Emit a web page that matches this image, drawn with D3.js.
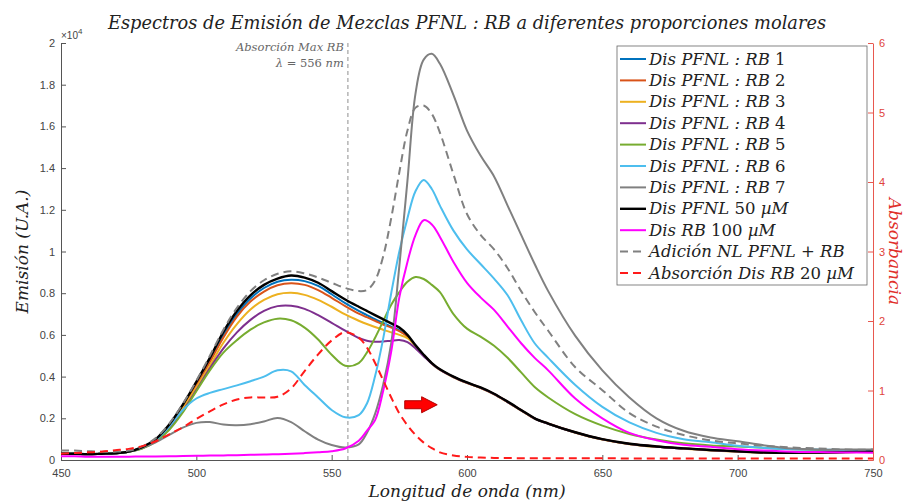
<!DOCTYPE html>
<html>
<head>
<meta charset="utf-8">
<script src="https://cdn.jsdelivr.net/npm/d3@7"></script>
<style>
  html, body { margin: 0; padding: 0; background: #fff; }
  svg { display: block; }
</style>
</head>
<body>
<svg id="chart" width="905" height="502"></svg>
<script>
// Wavelength grid (nm) shared by every spectrum
const wavelengths = [450,455,460,465,470,475,480,485,490,495,500,505,510,515,520,525,530,535,540,545,550,555,560,563,566,569,572,575,578,581,584,587,590,595,600,605,610,615,620,625,630,640,650,660,670,680,690,700,710,720,730,740,750];

// Emission spectra, in units of 10^4 (U.A.)
const emRB1 = [0.030,0.030,0.028,0.030,0.032,0.040,0.060,0.097,0.165,0.258,0.365,0.478,0.600,0.700,0.775,0.825,0.855,0.865,0.858,0.835,0.795,0.752,0.715,0.695,0.675,0.658,0.640,0.622,0.594,0.548,0.503,0.463,0.433,0.398,0.370,0.346,0.316,0.278,0.238,0.199,0.174,0.132,0.099,0.077,0.064,0.055,0.047,0.041,0.036,0.035,0.036,0.038,0.040];
const emRB2 = [0.030,0.030,0.028,0.030,0.032,0.040,0.060,0.096,0.163,0.255,0.360,0.470,0.588,0.688,0.760,0.808,0.838,0.848,0.840,0.815,0.778,0.738,0.702,0.685,0.668,0.650,0.635,0.618,0.592,0.547,0.503,0.464,0.434,0.399,0.371,0.347,0.317,0.279,0.239,0.200,0.175,0.133,0.100,0.078,0.065,0.056,0.048,0.042,0.037,0.036,0.037,0.039,0.041];
const emRB3 = [0.030,0.030,0.028,0.030,0.032,0.040,0.058,0.094,0.158,0.247,0.348,0.452,0.562,0.652,0.722,0.768,0.795,0.802,0.792,0.768,0.735,0.698,0.668,0.652,0.638,0.625,0.612,0.600,0.584,0.546,0.502,0.462,0.432,0.397,0.369,0.345,0.315,0.277,0.237,0.198,0.173,0.131,0.098,0.076,0.063,0.054,0.046,0.040,0.035,0.034,0.035,0.037,0.039];
const emRB4 = [0.030,0.030,0.028,0.030,0.032,0.040,0.056,0.090,0.150,0.235,0.335,0.440,0.535,0.612,0.672,0.715,0.738,0.740,0.725,0.695,0.658,0.620,0.585,0.572,0.567,0.568,0.572,0.575,0.565,0.535,0.498,0.462,0.433,0.398,0.370,0.346,0.316,0.278,0.238,0.199,0.174,0.132,0.099,0.077,0.064,0.055,0.047,0.041,0.036,0.035,0.036,0.038,0.040];
const emRB5 = [0.030,0.030,0.028,0.030,0.032,0.040,0.055,0.088,0.145,0.228,0.330,0.430,0.515,0.575,0.625,0.660,0.678,0.670,0.635,0.578,0.505,0.452,0.465,0.515,0.585,0.665,0.745,0.805,0.855,0.878,0.868,0.840,0.805,0.700,0.630,0.592,0.548,0.490,0.420,0.350,0.300,0.220,0.165,0.125,0.098,0.080,0.070,0.065,0.058,0.052,0.048,0.046,0.045];
const emRB6 = [0.030,0.030,0.028,0.030,0.032,0.040,0.060,0.095,0.160,0.240,0.295,0.322,0.340,0.358,0.378,0.400,0.430,0.425,0.360,0.300,0.240,0.205,0.215,0.270,0.400,0.580,0.800,1.000,1.160,1.290,1.343,1.300,1.220,1.100,1.010,0.940,0.870,0.790,0.670,0.560,0.490,0.360,0.255,0.180,0.130,0.100,0.085,0.068,0.058,0.052,0.050,0.048,0.045];
const emRB7 = [0.030,0.030,0.028,0.030,0.032,0.040,0.058,0.085,0.120,0.155,0.178,0.182,0.170,0.167,0.172,0.185,0.202,0.182,0.138,0.098,0.072,0.060,0.075,0.130,0.220,0.360,0.560,0.930,1.340,1.760,1.920,1.948,1.900,1.750,1.580,1.460,1.360,1.220,1.080,0.940,0.810,0.595,0.430,0.300,0.200,0.140,0.108,0.090,0.070,0.055,0.050,0.050,0.050];
const emPFNL = [0.030,0.030,0.028,0.030,0.032,0.040,0.062,0.100,0.170,0.265,0.375,0.490,0.615,0.715,0.790,0.840,0.870,0.885,0.875,0.850,0.810,0.770,0.735,0.715,0.695,0.675,0.655,0.635,0.600,0.550,0.505,0.465,0.435,0.400,0.372,0.348,0.318,0.280,0.240,0.200,0.175,0.133,0.100,0.078,0.065,0.056,0.048,0.042,0.036,0.035,0.036,0.038,0.040];
const emRB = [0.018,0.018,0.016,0.016,0.016,0.016,0.017,0.017,0.018,0.019,0.020,0.021,0.022,0.023,0.025,0.026,0.028,0.030,0.033,0.037,0.042,0.055,0.092,0.140,0.190,0.330,0.520,0.780,0.950,1.080,1.150,1.130,1.070,0.950,0.850,0.780,0.720,0.640,0.560,0.490,0.430,0.295,0.200,0.130,0.095,0.073,0.063,0.052,0.045,0.040,0.038,0.036,0.035];
const emSum = [0.045,0.045,0.042,0.040,0.040,0.045,0.065,0.105,0.175,0.270,0.380,0.500,0.625,0.730,0.810,0.862,0.893,0.905,0.895,0.875,0.850,0.825,0.810,0.815,0.860,0.975,1.160,1.380,1.580,1.690,1.700,1.660,1.570,1.370,1.180,1.080,1.010,0.920,0.810,0.710,0.620,0.445,0.335,0.225,0.160,0.120,0.094,0.080,0.068,0.060,0.055,0.050,0.050];

// Absorbance of RB 20 uM (right axis)
const absRB = [0.090,0.100,0.110,0.120,0.140,0.160,0.200,0.270,0.370,0.470,0.590,0.700,0.800,0.870,0.900,0.900,0.910,1.030,1.280,1.520,1.720,1.840,1.760,1.620,1.400,1.150,0.900,0.670,0.500,0.360,0.250,0.170,0.110,0.065,0.045,0.035,0.030,0.028,0.026,0.025,0.025,0.024,0.024,0.023,0.023,0.022,0.022,0.022,0.021,0.021,0.021,0.020,0.020];

// Legend labels and colours, in drawing order
const seriesNames = [
  "Dis PFNL : RB 1", "Dis PFNL : RB 2", "Dis PFNL : RB 3", "Dis PFNL : RB 4",
  "Dis PFNL : RB 5", "Dis PFNL : RB 6", "Dis PFNL : RB 7",
  "Dis PFNL 50 µM", "Dis RB 100 µM", "Adición NL PFNL + RB", "Absorción Dis RB 20 µM"
];
const seriesColors = ["#0072BD","#D95319","#EDB120","#7E2F8E","#77AC30","#4DBEEE","#808080","#000000","#FF00FF","#808080","#FF1A1A"];

// Axis ticks
const xTicks = [450,500,550,600,650,700,750];
const yTicks = [0,0.2,0.4,0.6,0.8,1,1.2,1.4,1.6,1.8,2];
const yRightTicks = [0,1,2,3,4,5,6];

// Absorption maximum marker and the arrow annotation
const absMaxWavelength = 556;
const arrowSpan = [577, 589];
const arrowLevel = 0.265;

const svg = d3.select("#chart");
const serif = "'DejaVu Serif', serif";
const sans = "'Liberation Sans', Arial, sans-serif";

const plot = { left: 61, right: 873, top: 43, bottom: 460 };
const x = d3.scaleLinear().domain([450, 750]).range([plot.left, plot.right]);
const y = d3.scaleLinear().domain([0, 2]).range([plot.bottom, plot.top]);
const yR = d3.scaleLinear().domain([0, 6]).range([plot.bottom, plot.top]);

// Writes LaTeX-like text: letters italic, digits upright
function mathText(sel, str) {
  str.split(/(\d+)/).filter(s => s.length).forEach(part => {
    sel.append("tspan")
      .attr("font-style", /^\d+$/.test(part) ? "normal" : "italic")
      .text(part);
  });
  return sel;
}

// Axes
const axisColor = "#555";
const gx = svg.append("g").attr("transform", `translate(0,${plot.bottom})`)
  .call(d3.axisBottom(x).tickValues(xTicks).tickSizeInner(-5).tickSizeOuter(0).tickPadding(9));
const gy = svg.append("g").attr("transform", `translate(${plot.left},0)`)
  .call(d3.axisLeft(y).tickValues(yTicks).tickFormat(d3.format("~g")).tickSizeInner(-5).tickSizeOuter(0).tickPadding(6));
const gyr = svg.append("g").attr("transform", `translate(${plot.right},0)`)
  .call(d3.axisRight(yR).tickValues(yRightTicks).tickFormat(d3.format("d")).tickSizeInner(-5).tickSizeOuter(0).tickPadding(6));

[gx, gy].forEach(g => {
  g.select(".domain").attr("stroke", axisColor);
  g.selectAll(".tick line").attr("stroke", axisColor);
  g.selectAll(".tick text").attr("fill", "#444").attr("font-family", sans).attr("font-size", 11);
});
gyr.select(".domain").attr("stroke", "#e8584f");
gyr.selectAll(".tick line").attr("stroke", "#e8584f");
gyr.selectAll(".tick text").attr("fill", "#e0433b").attr("font-family", sans).attr("font-size", 11);

// Exponent label of the left axis
const expo = svg.append("text").attr("x", plot.left).attr("y", 39)
  .attr("font-family", sans).attr("font-size", 10).attr("fill", "#444");
expo.append("tspan").text("×10");
expo.append("tspan").attr("dy", -5).attr("font-size", 8).text("4");

// Vertical marker at the absorption maximum
svg.append("line")
  .attr("x1", x(absMaxWavelength)).attr("x2", x(absMaxWavelength))
  .attr("y1", plot.top).attr("y2", plot.bottom)
  .attr("stroke", "#808080").attr("stroke-width", 0.9).attr("stroke-dasharray", "4,3");

const note = svg.append("g").attr("font-family", serif).attr("font-size", 11.5)
  .attr("fill", "#666").attr("text-anchor", "end");
mathText(note.append("text").attr("x", x(absMaxWavelength) - 4).attr("y", 51), "Absorción Max RB");
mathText(note.append("text").attr("x", x(absMaxWavelength) - 4).attr("y", 67), "λ = " + absMaxWavelength + " nm");

// Spectra
const emissionSets = [emRB1, emRB2, emRB3, emRB4, emRB5, emRB6, emRB7, emPFNL, emRB, emSum];
const lineEm = d3.line().x((d, i) => x(wavelengths[i])).y(d => y(d)).curve(d3.curveCatmullRom.alpha(0.5));
const lineAbs = d3.line().x((d, i) => x(wavelengths[i])).y(d => yR(d)).curve(d3.curveCatmullRom.alpha(0.5));

const styleOf = i => ({
  color: seriesColors[i],
  width: i === 7 ? 2.4 : 2,
  dash: i >= 9 ? "8,5" : null
});

emissionSets.forEach((data, i) => {
  const s = styleOf(i);
  svg.append("path").datum(data).attr("d", lineEm)
    .attr("fill", "none").attr("stroke", s.color).attr("stroke-width", s.width)
    .attr("stroke-dasharray", s.dash).attr("stroke-linejoin", "round");
});
{
  const s = styleOf(10);
  svg.append("path").datum(absRB).attr("d", lineAbs)
    .attr("fill", "none").attr("stroke", s.color).attr("stroke-width", s.width)
    .attr("stroke-dasharray", s.dash);
}

// Red arrow annotation
{
  const x0 = x(arrowSpan[0]), x1 = x(arrowSpan[1]), yc = y(arrowLevel);
  const xm = x0 + (x1 - x0) * 0.52;
  const p = d3.path();
  p.moveTo(x0, yc - 4); p.lineTo(xm, yc - 4); p.lineTo(xm, yc - 8);
  p.lineTo(x1, yc); p.lineTo(xm, yc + 8); p.lineTo(xm, yc + 4);
  p.lineTo(x0, yc + 4); p.closePath();
  svg.append("path").attr("d", p.toString())
    .attr("fill", "#ff0000").attr("stroke", "#b00000").attr("stroke-width", 1);
}

// Legend
const legend = svg.append("g");
legend.append("rect").attr("x", 617).attr("y", 46).attr("width", 250).attr("height", 239)
  .attr("fill", "#fff").attr("stroke", "#666").attr("stroke-width", 0.8);
seriesNames.forEach((name, i) => {
  const s = styleOf(i);
  const yy = 59 + i * 21.4;
  legend.append("line").attr("x1", 620).attr("x2", 646).attr("y1", yy).attr("y2", yy)
    .attr("stroke", s.color).attr("stroke-width", s.width).attr("stroke-dasharray", s.dash);
  mathText(legend.append("text").attr("x", 649).attr("y", yy + 5.5)
    .attr("font-family", serif).attr("font-size", 16.5).attr("fill", "#222"), name);
});

// Titles
mathText(svg.append("text").attr("x", (plot.left + plot.right) / 2).attr("y", 29)
  .attr("text-anchor", "middle").attr("font-family", serif).attr("font-size", 17.8).attr("fill", "#222"),
  "Espectros de Emisión de Mezclas PFNL : RB a diferentes proporciones molares");
mathText(svg.append("text").attr("x", (plot.left + plot.right) / 2).attr("y", 497)
  .attr("text-anchor", "middle").attr("font-family", serif).attr("font-size", 17).attr("fill", "#222"),
  "Longitud de onda (nm)");
mathText(svg.append("text").attr("transform", `translate(28,${(plot.top + plot.bottom) / 2}) rotate(-90)`)
  .attr("text-anchor", "middle").attr("font-family", serif).attr("font-size", 17).attr("fill", "#222"),
  "Emisión (U.A.)");
mathText(svg.append("text").attr("transform", `translate(889,${(plot.top + plot.bottom) / 2}) rotate(90)`)
  .attr("text-anchor", "middle").attr("font-family", serif).attr("font-size", 17).attr("fill", "#e0302a"),
  "Absorbancia");
</script>
</body>
</html>
